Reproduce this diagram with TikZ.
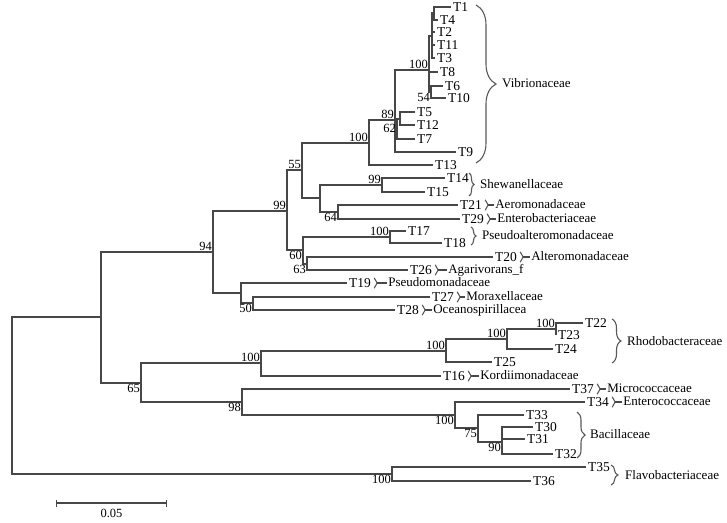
\documentclass[tikz,border=0pt]{standalone}
\usepackage{fontspec}
\setmainfont{Liberation Serif}
\usetikzlibrary{positioning,decorations.pathreplacing,arrows.meta}

\begin{document}
\begin{tikzpicture}[x=1pt,y=-1pt,%
% common options for the tree lines:
branch/.style = {draw=black!72, line width=1.1pt},
% common options for the texts:
leaf/.style = {anchor=west, inner xsep=2pt, inner ysep=0.5pt, text height=9pt,
            text depth=0pt, font=\fontsize{13.5}{15}\selectfont},
fam/.style = {anchor=west, inner xsep=1pt, inner ysep=0.3pt, text height=8.5pt,
            text depth=1.5pt, font=\fontsize{13}{15}\selectfont},
bs/.style = {inner sep=1pt, font=\fontsize{12.5}{14}\selectfont},
% braces:
bigbrace/.style = {draw=black!65, line width=1.1pt, decorate,
            decoration={brace, amplitude=#1}},
sbrace/.style = {draw=black!65, line width=1.1pt, decorate,
            decoration={brace, amplitude=3pt}}]
\useasboundingbox (0,0) rectangle (727,522);
% leaves
\node[leaf] (T1) at (451,7) {T1};
\node[leaf] (T4) at (438,20) {T4};
\node[leaf] (T2) at (435,32) {T2};
\node[leaf] (T11) at (435,45) {T11};
\node[leaf] (T3) at (435,58) {T3};
\node[leaf] (T8) at (438,72) {T8};
\node[leaf] (T6) at (443,86) {T6};
\node[leaf] (T10) at (446,98) {T10};
\node[leaf] (T5) at (415,112) {T5};
\node[leaf] (T12) at (415,125) {T12};
\node[leaf] (T7) at (415,139) {T7};
\node[leaf] (T9) at (456,152) {T9};
\node[leaf] (T13) at (433,165) {T13};
\node[leaf] (T14) at (445,178) {T14};
\node[leaf] (T15) at (425,192) {T15};
\node[leaf] (T21) at (458,205) {T21};
\node[leaf] (T29) at (460,219) {T29};
\node[leaf] (T17) at (406,231) {T17};
\node[leaf] (T18) at (442,243) {T18};
\node[leaf] (T20) at (493,257) {T20};
\node[leaf] (T26) at (408,270) {T26};
\node[leaf] (T19) at (347,283) {T19};
\node[leaf] (T27) at (430,297) {T27};
\node[leaf] (T28) at (395,310) {T28};
\node[leaf] (T22) at (583,323) {T22};
\node[leaf] (T23) at (556,335) {T23};
\node[leaf] (T24) at (553,349) {T24};
\node[leaf] (T25) at (492,362) {T25};
\node[leaf] (T16) at (441,376) {T16};
\node[leaf] (T37) at (570,389) {T37};
\node[leaf] (T34) at (585,402) {T34};
\node[leaf] (T33) at (524,415) {T33};
\node[leaf] (T30) at (533,427) {T30};
\node[leaf] (T31) at (525,439) {T31};
\node[leaf] (T32) at (553,454) {T32};
\node[leaf] (T35) at (586,467) {T35};
\node[leaf] (T36) at (531,481) {T36};
% inner nodes
\coordinate (nA) at (434,13);
\coordinate (nB) at (432,36);
\coordinate (nC) at (431,92);
\coordinate (nV) at (429,70);
\coordinate (nP) at (400,119);
\coordinate (n62) at (397,128);
\coordinate (n89) at (395,120);
\coordinate (nVib) at (369,143);
\coordinate (n99s) at (382,185);
\coordinate (n64) at (338,212);
\coordinate (nSAE) at (320,198);
\coordinate (n55) at (302,170);
\coordinate (n100p) at (390,237);
\coordinate (n63) at (307,264);
\coordinate (n60) at (303,250);
\coordinate (n99) at (287,211);
\coordinate (n50) at (253,303);
\coordinate (nPs) at (241,293);
\coordinate (n94) at (213,252);
\coordinate (nR4) at (556,329);
\coordinate (nR3) at (507,339);
\coordinate (nR2) at (446,351);
\coordinate (nR1) at (261,363);
\coordinate (n90) at (502,442);
\coordinate (n75) at (478,428);
\coordinate (nB100) at (455,415);
\coordinate (n98) at (242,402);
\coordinate (n65) at (141,383);
\coordinate (nIn) at (101,317);
\coordinate (nF) at (392,474);
\coordinate (root) at (12,396);
% branches
\draw[branch] (nA) |- (T1.west) (nA) |- (T4.west);
\draw[branch] (nB) |- (nA) (nB) |- (T2.west) (nB) |- (T11.west) (nB) |- (T3.west);
\draw[branch] (nC) |- (T6.west) (nC) |- (T10.west);
\draw[branch] (nV) |- (nB) (nV) |- (T8.west) (nV) |- (nC);
\draw[branch] (nP) |- (T5.west) (nP) |- (T12.west);
\draw[branch] (n62) |- (nP) (n62) |- (T7.west);
\draw[branch] (n89) |- (nV) (n89) |- (n62) (n89) |- (T9.west);
\draw[branch] (nVib) |- (n89) (nVib) |- (T13.west);
\draw[branch] (n99s) |- (T14.west) (n99s) |- (T15.west);
\draw[branch] (n64) |- (T21.west) (n64) |- (T29.west);
\draw[branch] (nSAE) |- (n99s) (nSAE) |- (n64);
\draw[branch] (n55) |- (nVib) (n55) |- (nSAE);
\draw[branch] (n100p) |- (T17.west) (n100p) |- (T18.west);
\draw[branch] (n63) |- (T20.west) (n63) |- (T26.west);
\draw[branch] (n60) |- (n100p) (n60) |- (n63);
\draw[branch] (n99) |- (n55) (n99) |- (n60);
\draw[branch] (n50) |- (T27.west) (n50) |- (T28.west);
\draw[branch] (nPs) |- (T19.west) (nPs) |- (n50);
\draw[branch] (n94) |- (n99) (n94) |- (nPs);
\draw[branch] (nR4) |- (T22.west) (nR4) |- (T23.west);
\draw[branch] (nR3) |- (nR4) (nR3) |- (T24.west);
\draw[branch] (nR2) |- (nR3) (nR2) |- (T25.west);
\draw[branch] (nR1) |- (nR2) (nR1) |- (T16.west);
\draw[branch] (n90) |- (T30.west) (n90) |- (T31.west) (n90) |- (T32.west);
\draw[branch] (n75) |- (T33.west) (n75) |- (n90);
\draw[branch] (nB100) |- (T34.west) (nB100) |- (n75);
\draw[branch] (n98) |- (T37.west) (n98) |- (nB100);
\draw[branch] (n65) |- (nR1) (n65) |- (n98);
\draw[branch] (nIn) |- (n94) (nIn) |- (n65);
\draw[branch] (nF) |- (T35.west) (nF) |- (T36.west);
\draw[branch] (root) |- (nIn) (root) |- (nF);
% bootstrap values
\node[bs, above left] (bV) at (nV) {100};
\node[bs, below left] (bC) at (nC) {54};
\node[bs, left] (b62) at (n62) {62};
\node[bs, above left] (b89) at (n89) {89};
\node[bs, above left] (bVib) at (nVib) {100};
\node[bs, above left] (b99s) at (n99s) {99};
\node[bs, below left] (b64) at (n64) {64};
\node[bs, above left] (b55) at (n55) {55};
\node[bs, above left] (b100p) at (n100p) {100};
\node[bs, below left] (b63) at (n63) {63};
\node[bs, below left] (b60) at (n60) {60};
\node[bs, above left] (b99) at (n99) {99};
\node[bs, below left] (b50) at (n50) {50};
\node[bs, above left] (b94) at (n94) {94};
\node[bs, above left] (bR4) at (nR4) {100};
\node[bs, above left] (bR3) at (nR3) {100};
\node[bs, above left] (bR2) at (nR2) {100};
\node[bs, above left] (bR1) at (nR1) {100};
\node[bs, below left] (b90) at (n90) {90};
\node[bs, below left] (b75) at (n75) {75};
\node[bs, below left] (bB100) at (nB100) {100};
\node[bs, below left] (b98) at (n98) {98};
\node[bs, below left] (b65) at (n65) {65};
\node[bs, below left] (bF) at (nF) {100};
% families with several strains
\draw[bigbrace=20pt] (476,5) -- (476,163);
\node[fam] (vib) at (501,84) {Vibrionaceae};
\draw[bigbrace=5pt] (469,173) -- (469,196);
\node[fam] (shew) at (479,185) {Shewanellaceae};
\draw[bigbrace=5pt] (471,227) -- (471,245);
\node[fam] (palt) at (481,236) {Pseudoalteromonadaceae};
\draw[bigbrace=9pt] (612,319) -- (612,363);
\node[fam] (rhodo) at (626,342) {Rhodobacteraceae};
\draw[bigbrace=8pt] (577,412) -- (577,458);
\node[fam] (bacil) at (589,435) {Bacillaceae};
\draw[bigbrace=7pt] (611,465) -- (611,485);
\node[fam] (flavo) at (624,476) {Flavobacteriaceae};
% families with one strain
\node[fam, right=10pt of T21] (aero) {Aeromonadaceae};
\draw[sbrace] ([xshift=1pt]T21.north east) -- ([xshift=1pt]T21.south east);
\draw[branch] ([xshift=4pt]T21.east) -- (aero.west);
\node[fam, right=10pt of T29] (entb) {Enterobacteriaceae};
\draw[sbrace] ([xshift=1pt]T29.north east) -- ([xshift=1pt]T29.south east);
\draw[branch] ([xshift=4pt]T29.east) -- (entb.west);
\node[fam, right=11pt of T20] (alt) {Alteromonadaceae};
\draw[sbrace] ([xshift=1pt]T20.north east) -- ([xshift=1pt]T20.south east);
\draw[branch] ([xshift=4pt]T20.east) -- (alt.west);
\node[fam, right=13pt of T26] (agar) {Agarivorans\_f};
\draw[sbrace] ([xshift=1pt]T26.north east) -- ([xshift=1pt]T26.south east);
\draw[branch] ([xshift=4pt]T26.east) -- (agar.west);
\node[fam, right=14pt of T19] (psm) {Pseudomonadaceae};
\draw[sbrace] ([xshift=1pt]T19.north east) -- ([xshift=1pt]T19.south east);
\draw[branch] ([xshift=4pt]T19.east) -- (psm.west);
\node[fam, right=9pt of T27] (morax) {Moraxellaceae};
\draw[sbrace] ([xshift=1pt]T27.north east) -- ([xshift=1pt]T27.south east);
\draw[branch] ([xshift=4pt]T27.east) -- (morax.west);
\node[fam, right=11pt of T28] (ocean) {Oceanospirillacea};
\draw[sbrace] ([xshift=1pt]T28.north east) -- ([xshift=1pt]T28.south east);
\draw[branch] ([xshift=4pt]T28.east) -- (ocean.west);
\node[fam, right=12pt of T16] (kord) {Kordiimonadaceae};
\draw[sbrace] ([xshift=1pt]T16.north east) -- ([xshift=1pt]T16.south east);
\draw[branch] ([xshift=4pt]T16.east) -- (kord.west);
\node[fam, right=10pt of T37] (micro) {Micrococcaceae};
\draw[sbrace] ([xshift=1pt]T37.north east) -- ([xshift=1pt]T37.south east);
\draw[branch] ([xshift=4pt]T37.east) -- (micro.west);
\node[fam, right=11pt of T34] (entc) {Enterococcaceae};
\draw[sbrace] ([xshift=1pt]T34.north east) -- ([xshift=1pt]T34.south east);
\draw[branch] ([xshift=4pt]T34.east) -- (entc.west);
% scale bar
\coordinate (sbA) at (56,503);
\coordinate (sbB) at (167,503);
\draw[branch, {Bar[width=7pt]}-{Bar[width=7pt]}] (sbA) -- (sbB)
  node[bs, midway, below=5pt] (sbl) {0.05};
\end{tikzpicture}
\end{document}
